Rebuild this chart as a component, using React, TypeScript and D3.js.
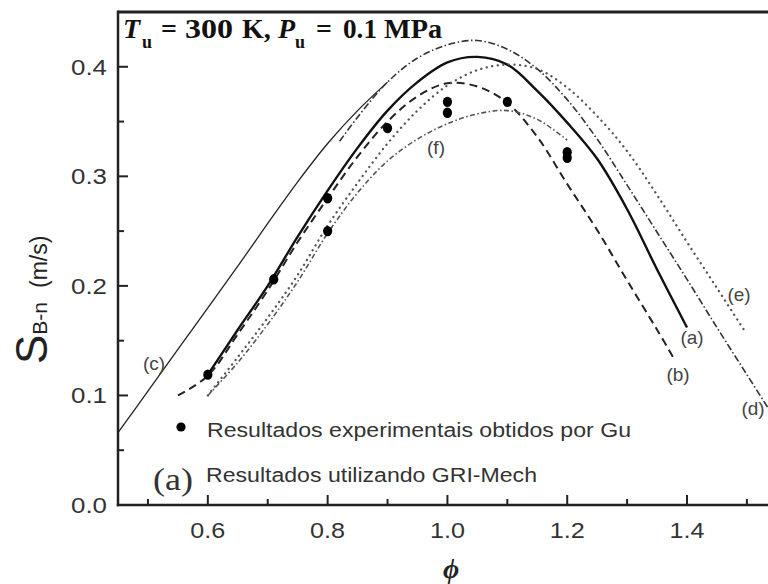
import React from 'react'
import * as d3 from 'd3'

// curves (a)-(f): equivalence ratio vs burning velocity (m/s)
const phiA = [0.6, 0.65, 0.7, 0.75, 0.8, 0.85, 0.9, 0.95, 1.0, 1.05, 1.1, 1.15, 1.2, 1.25, 1.3, 1.35, 1.4]
const sA = [0.119, 0.16, 0.2, 0.245, 0.287, 0.326, 0.36, 0.386, 0.404, 0.409, 0.402, 0.378, 0.349, 0.316, 0.27, 0.215, 0.162]

const phiB = [0.55, 0.6, 0.65, 0.7, 0.75, 0.8, 0.85, 0.9, 0.95, 1.0, 1.05, 1.1, 1.15, 1.2, 1.25, 1.3, 1.35, 1.38]
const sB = [0.1, 0.118, 0.156, 0.196, 0.24, 0.28, 0.318, 0.35, 0.373, 0.385, 0.382, 0.367, 0.336, 0.293, 0.251, 0.205, 0.16, 0.132]

const phiC = [0.45, 0.5, 0.55, 0.6, 0.65, 0.7, 0.75, 0.8, 0.85, 0.9]
const sC = [0.066, 0.104, 0.142, 0.18, 0.218, 0.257, 0.295, 0.33, 0.36, 0.386]

const phiD = [0.82, 0.85, 0.9, 0.95, 1.0, 1.05, 1.1, 1.15, 1.2, 1.25, 1.3, 1.35, 1.4, 1.45, 1.5, 1.55]
const sD = [0.332, 0.354, 0.386, 0.408, 0.42, 0.424, 0.416, 0.398, 0.37, 0.334, 0.292, 0.249, 0.206, 0.162, 0.119, 0.076]

const phiE = [0.6, 0.65, 0.7, 0.75, 0.8, 0.85, 0.9, 0.95, 1.0, 1.05, 1.1, 1.15, 1.2, 1.25, 1.3, 1.35, 1.4, 1.45, 1.495]
const sE = [0.1, 0.135, 0.171, 0.21, 0.255, 0.294, 0.33, 0.36, 0.383, 0.397, 0.402, 0.398, 0.381, 0.355, 0.323, 0.283, 0.24, 0.198, 0.16]

const phiF = [0.6, 0.65, 0.7, 0.75, 0.8, 0.85, 0.9, 0.95, 1.0, 1.05, 1.1, 1.15, 1.2]
const sF = [0.1, 0.13, 0.165, 0.204, 0.248, 0.285, 0.314, 0.334, 0.348, 0.357, 0.36, 0.352, 0.333]

// experimental results (Gu)
const phiExp = [0.6, 0.71, 0.8, 0.8, 0.9, 1.0, 1.0, 1.1, 1.2, 1.2]
const sExp = [0.119, 0.206, 0.25, 0.28, 0.344, 0.368, 0.358, 0.368, 0.322, 0.317]

const xMajor = [0.6, 0.8, 1.0, 1.2, 1.4]
const xMinor = [0.5, 0.7, 0.9, 1.1, 1.3, 1.5]
const yMajor = [0.0, 0.1, 0.2, 0.3, 0.4]
const yMinor = [0.05, 0.15, 0.25, 0.35]

const W = 768
const H = 584
const left = 118
const top = 12
const bottom = 505

const x = d3.scaleLinear().domain([0.45, 1.4]).range([left, 687])
const y = d3.scaleLinear().domain([0, 0.45]).range([bottom, top])

const line = d3.line<[number, number]>()
  .x(d => x(d[0]))
  .y(d => y(d[1]))
  .curve(d3.curveCatmullRom)

const zip = (a: number[], b: number[]) => a.map((v, i) => [v, b[i]] as [number, number])

const curves = [
  { id: 'a', d: zip(phiA, sA), stroke: '#111', width: 2.4, dash: undefined, cap: 'butt' },
  { id: 'b', d: zip(phiB, sB), stroke: '#222', width: 2, dash: '8 5', cap: 'butt' },
  { id: 'c', d: zip(phiC, sC), stroke: '#222', width: 1.3, dash: undefined, cap: 'butt' },
  { id: 'd', d: zip(phiD, sD), stroke: '#333', width: 1.6, dash: '7 2.5 1.5 2.5', cap: 'butt' },
  { id: 'e', d: zip(phiE, sE), stroke: '#555', width: 2.3, dash: '0.1 5.5', cap: 'round' },
  { id: 'f', d: zip(phiF, sF), stroke: '#555', width: 1.6, dash: '5 2.5 1.5 2.5', cap: 'butt' },
]

const curveLabels = [
  { t: '(a)', x: 692, y: 344 },
  { t: '(b)', x: 678, y: 381 },
  { t: '(c)', x: 154, y: 370 },
  { t: '(d)', x: 753, y: 415 },
  { t: '(e)', x: 739, y: 301 },
  { t: '(f)', x: 436, y: 154 },
]

const sans = 'Arial, "Liberation Sans", sans-serif'
const serif = '"Times New Roman", "Liberation Serif", serif'

export default function App() {
  return (
    <svg width={W} height={H} style={{ position: 'absolute', left: 0, top: 0, background: '#fff' }}>
      <defs>
        <clipPath id="plot">
          <rect x={left} y={top} width={W - left} height={bottom - top} />
        </clipPath>
      </defs>

      {/* curves */}
      <g clipPath="url(#plot)" fill="none">
        {curves.map(c => (
          <path key={c.id} d={line(c.d) || ''} stroke={c.stroke} strokeWidth={c.width}
            strokeDasharray={c.dash} strokeLinecap={c.cap as any} />
        ))}
        {phiExp.map((p, i) => (
          <ellipse key={i} cx={x(p)} cy={y(sExp[i])} rx={4.6} ry={5.2} fill="#000" />
        ))}
      </g>

      {/* frame */}
      <g stroke="#222" fill="none">
        <line x1={left} x2={W} y1={top} y2={top} strokeWidth={3} />
        <line x1={left} x2={left} y1={top - 1.5} y2={bottom + 1.2} strokeWidth={2.5} />
        <line x1={left - 1.2} x2={W} y1={bottom} y2={bottom} strokeWidth={2.5} />
        {xMajor.map(v => <line key={v} x1={x(v)} x2={x(v)} y1={bottom} y2={bottom - 10} strokeWidth={2} />)}
        {xMinor.map(v => <line key={v} x1={x(v)} x2={x(v)} y1={bottom} y2={bottom - 6} strokeWidth={2} />)}
        {yMajor.map(v => <line key={v} x1={left} x2={left + 10} y1={y(v)} y2={y(v)} strokeWidth={2} />)}
        {yMinor.map(v => <line key={v} x1={left} x2={left + 6} y1={y(v)} y2={y(v)} strokeWidth={2} />)}
      </g>

      {/* tick labels */}
      <g fontFamily={sans} fontSize={22} fill="#333">
        {xMajor.map(v => (
          <text key={v} x={x(v)} y={538} textAnchor="middle" textLength={35} lengthAdjust="spacingAndGlyphs">{v.toFixed(1)}</text>
        ))}
        {yMajor.map(v => (
          <text key={v} x={71} y={y(v) + 8} textLength={36} lengthAdjust="spacingAndGlyphs">{v.toFixed(1)}</text>
        ))}
      </g>

      {/* axis titles */}
      <text x={451} y={578} textAnchor="middle" fontFamily={serif} fontStyle="italic" fontWeight="bold" fontSize={28} fill="#222">ϕ</text>
      <text transform="translate(47,364) rotate(-90)" fontFamily={sans} fill="#222">
        <tspan fontSize={44}>S</tspan>
        <tspan fontSize={21}>B-n</tspan>
        <tspan fontSize={23} dx={14}>(m/s)</tspan>
      </text>

      {/* condition title */}
      <g fontFamily={serif} fontWeight="bold" fill="#111" fontSize={28}>
        <text x={123} y={38} fontStyle="italic">T</text>
        <text x={142} y={48} fontSize={18}>u</text>
        <text x={161} y={38}>=</text>
        <text x={185} y={38} textLength={48} lengthAdjust="spacingAndGlyphs">300</text>
        <text x={242} y={38}>K,</text>
        <text x={278} y={38} fontStyle="italic">P</text>
        <text x={295} y={48} fontSize={18}>u</text>
        <text x={316} y={38}>=</text>
        <text x={343} y={38} textLength={34} lengthAdjust="spacingAndGlyphs">0.1</text>
        <text x={384} y={38} textLength={58} lengthAdjust="spacingAndGlyphs">MPa</text>
      </g>

      {/* curve labels */}
      <g fontFamily={sans} fontSize={19} fill="#444" textAnchor="middle">
        {curveLabels.map(l => <text key={l.t} x={l.x} y={l.y}>{l.t}</text>)}
      </g>

      {/* legend */}
      <circle cx={181} cy={427} r={4.6} fill="#000" />
      <text x={207} y={437} fontFamily={sans} fontSize={20} fill="#333" textLength={424} lengthAdjust="spacingAndGlyphs">
        Resultados experimentais obtidos por Gu
      </text>
      <text x={153} y={490} fontFamily={serif} fontSize={31} fill="#333" textLength={40} lengthAdjust="spacingAndGlyphs">(a)</text>
      <text x={206} y={482} fontFamily={sans} fontSize={20} fill="#333" textLength={331} lengthAdjust="spacingAndGlyphs">
        Resultados utilizando GRI-Mech
      </text>
    </svg>
  )
}
